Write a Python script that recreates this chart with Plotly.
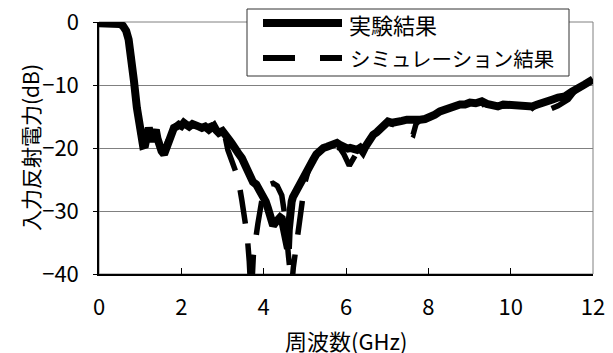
import plotly.graph_objects as go

# ---------------- data ----------------
freq_exp = [0.0, 0.2, 0.4, 0.5, 0.58, 0.66, 0.72, 0.78, 0.85, 0.92, 0.97, 1.02, 1.07, 1.12,
            1.17, 1.21, 1.25, 1.29, 1.33, 1.38, 1.42, 1.46, 1.52, 1.58, 1.64, 1.7, 1.76, 1.82,
            1.88, 1.94, 2.0, 2.06, 2.12, 2.19, 2.27, 2.36, 2.43, 2.5, 2.58, 2.67, 2.73, 2.79,
            2.85, 2.91, 3.0, 3.08, 3.15, 3.22, 3.3, 3.38, 3.47, 3.53, 3.59, 3.66, 3.74, 3.82,
            3.91, 3.98, 4.05, 4.1, 4.15, 4.19, 4.23, 4.29, 4.35, 4.4, 4.44, 4.48, 4.52, 4.56,
            4.59, 4.61, 4.64, 4.68, 4.71, 4.77, 4.83, 4.9, 4.96, 5.02, 5.08, 5.14, 5.2, 5.28,
            5.37, 5.45, 5.54, 5.62, 5.7, 5.78, 5.85, 5.92, 5.98, 6.04, 6.1, 6.18, 6.27, 6.34,
            6.41, 6.47, 6.53, 6.6, 6.66, 6.75, 6.83, 6.92, 7.02, 7.12, 7.24, 7.36, 7.48, 7.6,
            7.7, 7.8, 7.92, 8.04, 8.16, 8.28, 8.4, 8.53, 8.65, 8.77, 8.89, 9.01, 9.15, 9.3,
            9.42, 9.55, 9.69, 9.82, 9.95, 10.1, 10.22, 10.35, 10.52, 10.65, 10.78, 10.9, 11.02,
            11.15, 11.32, 11.48, 11.63, 11.8, 12.0]
s11_exp = [-0.2, -0.2, -0.2, -0.3, -0.6, -1.4, -2.8, -5.1, -9.4, -13.6, -16.0, -18.0, -19.6, -19.5,
           -17.5, -16.8, -17.8, -19.0, -18.0, -17.1, -18.5, -20.0, -20.5, -21.0, -19.8, -18.4, -17.4, -16.8,
           -16.6, -16.3, -16.5, -16.0, -16.3, -16.6, -16.2, -16.3, -16.6, -16.8, -16.6, -17.1, -16.9, -16.5,
           -17.2, -17.6, -17.3, -17.8, -18.6, -19.2, -19.8, -20.8, -21.6, -22.5, -23.2, -24.2, -25.4, -25.8,
           -26.7, -27.5, -28.5, -29.5, -31.0, -32.0, -32.3, -31.8, -31.5, -31.0, -31.2, -32.8, -34.2, -35.2,
           -36.0, -33.0, -29.9, -28.5, -27.8, -27.0, -26.7, -25.8, -25.1, -24.2, -23.5, -22.7, -21.9, -21.0,
           -20.3, -20.0, -19.8, -19.5, -19.4, -19.2, -19.5, -19.8, -19.8, -20.1, -20.0, -20.3, -20.3, -20.0,
           -20.6, -19.8, -19.0, -18.3, -17.9, -17.5, -17.1, -16.4, -15.8, -16.0, -16.0, -15.7, -15.5, -15.6,
           -15.4, -15.5, -15.4, -15.2, -14.7, -14.2, -13.9, -13.6, -13.3, -13.1, -13.1, -12.8, -12.9, -12.6,
           -13.0, -13.2, -13.4, -13.1, -13.2, -13.1, -13.3, -13.2, -13.4, -13.1, -12.9, -12.6, -12.3,
           -12.0, -11.8, -11.1, -10.4, -9.9, -9.1]

freq_sim = [0.0, 0.5, 0.66, 0.78, 0.85, 0.92, 1.0, 1.07, 1.15, 1.25, 1.35, 1.46, 1.58, 1.7, 1.82,
            2.0, 2.2, 2.4, 2.6, 2.8, 2.95, 3.05, 3.13, 3.25, 3.38, 3.47, 3.55, 3.6, 3.65, 3.69,
            3.72, 3.75, 3.86, 3.95, 4.05, 4.15, 4.23, 4.33, 4.44, 4.52, 4.6, 4.64, 4.68, 4.72,
            4.76, 4.85, 4.93, 5.0, 5.1, 5.2, 5.37, 5.6, 5.85, 5.95, 6.08, 6.2, 6.3, 6.4, 6.53,
            6.66, 6.83, 7.02, 7.24, 7.45, 7.63, 7.7, 7.8, 8.04, 8.28, 8.53, 8.77, 9.0, 9.3, 9.45,
            9.6, 9.75, 10.1, 10.5, 10.66, 10.9, 11.15, 11.4, 11.6, 11.8, 12.0]
s11_sim = [-0.2, -0.3, -1.4, -5.1, -9.4, -13.6, -17.5, -19.5, -18.0, -17.5, -18.0, -19.5, -20.5, -18.4, -16.8,
           -16.3, -16.4, -16.5, -16.7, -16.2, -17.0, -17.8, -20.3, -22.5, -24.8, -28.3, -31.5, -33.9, -38.0, -43.0,
           -41.0, -37.0, -32.0, -28.5, -26.5, -25.8, -25.6, -26.0, -27.5, -31.0, -37.0, -41.0, -42.0, -39.0,
           -37.0, -31.5, -28.3, -25.5, -23.2, -21.8, -20.3, -19.5, -20.0, -21.0, -22.8, -21.5, -20.3, -20.0, -19.0,
           -17.9, -17.1, -16.0, -16.5, -17.2, -17.9, -16.2, -15.5, -15.2, -14.2, -13.6, -13.1, -12.9, -12.8, -13.9,
           -14.0, -13.4, -13.2, -13.4, -14.6, -14.0, -13.3, -12.3, -10.6, -9.9, -9.1]

series_names = ["実験結果", "シミュレーション結果"]
x_ticks = [0, 2, 4, 6, 8, 10, 12]
y_ticks = [0, -10, -20, -30, -40]
y_ticktext = ["0", "−10", "−20", "−30", "−40"]
x_title = "周波数(GHz)"
y_title = "入力反射電力(dB)"

# ---------------- figure ----------------
FONT = "Noto Sans CJK JP, Liberation Sans, sans-serif"
OFF = 8                      # default body margin of the html page
W, H = 613 - OFF, 353 - OFF
PX0, PX1, PY0, PY1 = 99, 593, 22, 274   # plot area in window pixels
L, T = PX0 - OFF, PY0 - OFF
R, B = W - (PX1 - OFF), H - (PY1 - OFF)


def px(x):
    return (x - PX0) / (PX1 - PX0)


def py(y):
    return (PY1 - y) / (PY1 - PY0)


fig = go.Figure()
fig.add_trace(go.Scatter(x=freq_sim, y=s11_sim, mode="lines", name=series_names[1],
                         line=dict(color="black", width=5.5, dash="34px,20px"),
                         showlegend=False))
fig.add_trace(go.Scatter(x=freq_exp, y=s11_exp, mode="lines", name=series_names[0],
                         line=dict(color="black", width=8), showlegend=False))

shapes = [
    dict(type="rect", xref="paper", yref="paper", x0=0, x1=1, y0=0, y1=1,
         line=dict(color="#808080", width=1), layer="below"),
    dict(type="rect", xref="paper", yref="paper", x0=px(247), x1=px(569), y0=py(76), y1=py(9),
         line=dict(color="#333333", width=1), fillcolor="white", layer="above"),
    dict(type="line", xref="paper", yref="paper", x0=px(263), x1=px(342), y0=py(23), y1=py(23),
         line=dict(color="black", width=8, ), layer="above"),
    dict(type="line", xref="paper", yref="paper", x0=px(263), x1=px(295), y0=py(58), y1=py(58),
         line=dict(color="black", width=6), layer="above"),
    dict(type="line", xref="paper", yref="paper", x0=px(320), x1=px(342), y0=py(58), y1=py(58),
         line=dict(color="black", width=6), layer="above"),
]
annotations = [
    dict(xref="paper", yref="paper", x=px(347), y=py(24), text=series_names[0], showarrow=False,
         xanchor="left", yanchor="middle", font=dict(family=FONT, size=22, color="black")),
    dict(xref="paper", yref="paper", x=px(348), y=py(58), text=series_names[1], showarrow=False,
         xanchor="left", yanchor="middle", font=dict(family=FONT, size=20.5, color="black")),
    # axis titles
    dict(xref="paper", yref="paper", x=px(346), y=py(340), text=x_title, showarrow=False,
         xanchor="center", yanchor="middle", font=dict(family=FONT, size=22, color="black")),
    dict(xref="paper", yref="paper", x=px(30), y=py(148), text=y_title, showarrow=False,
         textangle=-90, xanchor="center", yanchor="middle",
         font=dict(family=FONT, size=21, color="black")),
]

fig.update_layout(
    width=W, height=H,
    margin=dict(l=L, r=R, t=T, b=B, pad=0, autoexpand=False),
    paper_bgcolor="white", plot_bgcolor="white",
    font=dict(family=FONT, size=22, color="black"),
    shapes=shapes, annotations=annotations,
    showlegend=False,
    xaxis=dict(range=[0, 12], tickvals=x_ticks, ticktext=[str(v) for v in x_ticks],
               automargin=False, ticklabeloverflow="allow",
               showgrid=False, zeroline=False, showline=True, linecolor="black", linewidth=1.5,
               ticks="inside", ticklen=6, tickcolor="black", tickwidth=1,
               ticklabelstandoff=13, tickfont=dict(size=22)),
    yaxis=dict(range=[-40, 0], tickvals=y_ticks, ticktext=y_ticktext,
               automargin=False, ticklabeloverflow="allow",
               showgrid=True, gridcolor="#808080", gridwidth=1, zeroline=False,
               showline=True, linecolor="black", linewidth=1.5,
               ticks="outside", ticklen=4, tickcolor="black",
               ticklabelstandoff=10, tickfont=dict(size=22)),
)

fig.write_html("out.html")
